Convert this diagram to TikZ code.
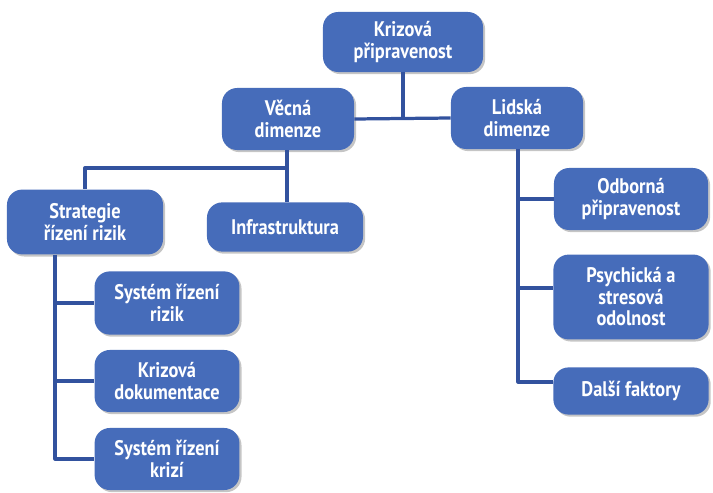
\documentclass[tikz,border=0pt]{standalone}
\usepackage{fontspec}
\setmainfont{PT Sans}[FakeStretch=0.87]
\usetikzlibrary{shadows}
\definecolor{boxblue}{RGB}{70,108,186}
\definecolor{lineblue}{RGB}{50,82,158}
\begin{document}
\begin{tikzpicture}[x=0.025cm,y=-0.025cm,line join=round,
    box/.style={draw=none,fill=boxblue,text=white,rounded corners=0.38cm,align=center,
      font=\bfseries\fontsize{15}{15.3}\selectfont,inner sep=0pt,
      drop shadow={shadow xshift=1.5pt,shadow yshift=-1.5pt,fill=black!45}},
    link/.style={draw=lineblue,line width=2.3pt}]
  \useasboundingbox (0,0) rectangle (713,493);
  \coordinate (vbus) at (287,168);
  \coordinate (sbus) at (55,460);
  \coordinate (lbus) at (518,382);
  \node[box,minimum width=4cm,minimum height=1.5cm] (top) at (403,42) {Krizová\\připravenost};
  \node[box,minimum width=3.3cm,minimum height=1.55cm] (vecna) at (288,119) {Věcná\\dimenze};
  \node[box,minimum width=3.3cm,minimum height=1.55cm] (lidska) at (517,118) {Lidská\\dimenze};
  \node[box,minimum width=3.9cm,minimum height=1.62cm] (strat) at (85,222) {Strategie\\řízení rizik};
  \node[box,minimum width=3.9cm,minimum height=1.23cm] (infra) at (285,227) {Infrastruktura};
  \node[box,minimum width=3.62cm,minimum height=1.58cm] (sysriz) at (167,303) {Systém řízení\\rizik};
  \node[box,minimum width=3.62cm,minimum height=1.55cm] (krizdok) at (167,381) {Krizová\\dokumentace};
  \node[box,minimum width=3.62cm,minimum height=1.55cm] (syskriz) at (167,459) {Systém řízení\\krizí};
  \node[box,minimum width=3.85cm,minimum height=1.55cm] (odb) at (631,199) {Odborná\\připravenost};
  \node[box,minimum width=3.88cm,minimum height=2.12cm] (psych) at (631,297) {Psychická a\\stresová\\odolnost};
  \node[box,minimum width=3.88cm,minimum height=1.18cm] (dalsi) at (631,391) {Další faktory};
  % connectors
  \draw[link] (top.south) -- (top.south |- vecna.east);
  \draw[link] (vecna.east) -- (lidska.west);
  \draw[link] (vecna.south -| vbus) -- (vbus) -| (strat.north);
  \draw[link] (vbus) -- (infra.north -| vbus);
  \draw[link] (strat.south -| sbus) |- (syskriz.west);
  \draw[link] (sbus |- sysriz.west) -- (sysriz.west);
  \draw[link] (sbus |- krizdok.west) -- (krizdok.west);
  \draw[link] (lidska.south -| lbus) -- (lbus) -- (lbus -| dalsi.west);
  \draw[link] (lbus |- odb.west) -- (odb.west);
  \draw[link] (lbus |- 0,288) -- (psych.west |- 0,288);
\end{tikzpicture}
\end{document}
